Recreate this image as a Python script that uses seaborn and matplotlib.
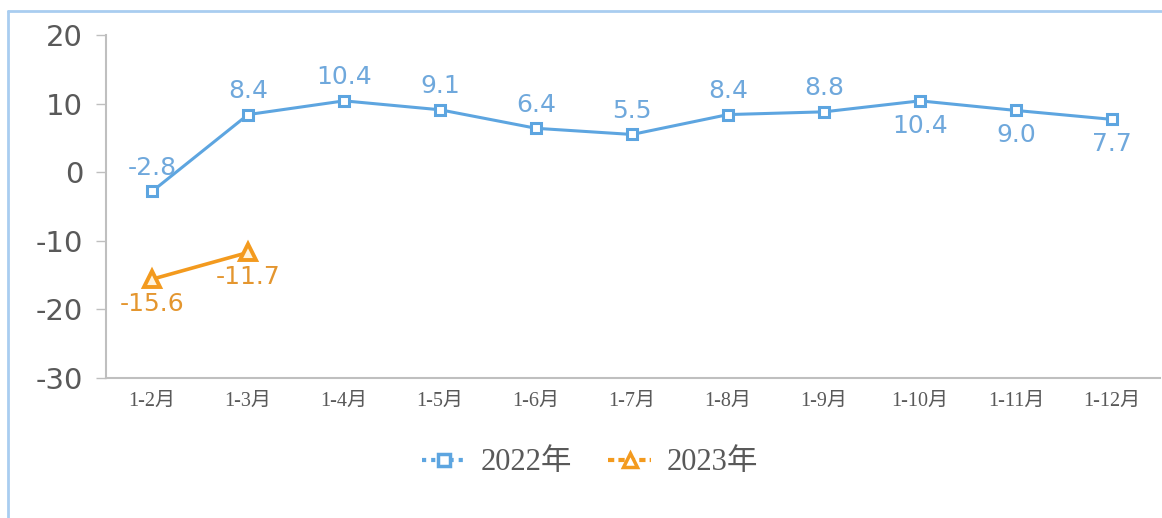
"""
    cumulative growth by month, 2022 vs 2023
"""
import matplotlib
matplotlib.use('Agg')
import matplotlib.pyplot as plt
import matplotlib.lines as mlines
import numpy as np
import pandas as pd
import seaborn as sns

months = ['1-2月', '1-3月', '1-4月', '1-5月', '1-6月', '1-7月', '1-8月', '1-9月', '1-10月', '1-11月', '1-12月']
vals_2022 = [-2.8, 8.4, 10.4, 9.1, 6.4, 5.5, 8.4, 8.8, 10.4, 9.0, 7.7]
vals_2023 = [-15.6, -11.7]
label_below_2022 = [False] * 8 + [True] * 3
y_ticks = [20, 10, 0, -10, -20, -30]

blue = '#5DA5E0'
blue_txt = '#6FA8DC'
orange = '#F39A1E'
orange_txt = '#E4962F'
grey_txt = '#595959'

sns.set_style('white')
plt.rcParams['font.family'] = ['DejaVu Sans', 'Noto Sans CJK SC']

df22 = pd.DataFrame({'x': np.arange(len(vals_2022)), 'y': vals_2022})
df23 = pd.DataFrame({'x': np.arange(len(vals_2023)), 'y': vals_2023})

fig = plt.figure(figsize=(11.62, 5.18), dpi=100)
ax = fig.add_axes([106 / 1162, 1 - 378 / 518, (1160 - 106) / 1162, (378 - 35) / 518])

sns.lineplot(data=df22, x='x', y='y', ax=ax, color=blue, lw=2.2, marker='s', markersize=7,
             markerfacecolor='white', markeredgecolor=blue, markeredgewidth=2.2)
sns.lineplot(data=df23, x='x', y='y', ax=ax, color=orange, lw=2.6, marker='^', markersize=12,
             markerfacecolor='#FFF3DC', markeredgecolor=orange, markeredgewidth=2.8)

# data labels
for i, v in enumerate(vals_2022):
    off = -18 if label_below_2022[i] else 17
    ax.annotate('%.1f' % v, (i, v), xytext=(0, off), textcoords='offset points',
                ha='center', va='center', color=blue_txt, fontsize=18, family='DejaVu Sans')
for i, v in enumerate(vals_2023):
    ax.annotate('%.1f' % v, (i, v), xytext=(0, -18), textcoords='offset points',
                ha='center', va='center', color=orange_txt, fontsize=18, family='DejaVu Sans')

ax.set_xlim(-0.48, 10.5)
ax.set_ylim(-30, 20)
ax.set_yticks(y_ticks)
ax.set_yticklabels([str(t) for t in y_ticks], fontsize=21, color=grey_txt)
ax.set_xticks(range(len(months)))
ax.set_xticklabels(months, fontsize=14.5, color=grey_txt,
                   family=['Liberation Serif', 'Noto Sans CJK SC'])
ax.set_xlabel('')
ax.set_ylabel('')
ax.tick_params(axis='y', length=7.5, width=1, color='#BFBFBF', left=True, pad=9)
ax.tick_params(axis='x', length=0, pad=10)
for s in ['top', 'right']:
    ax.spines[s].set_visible(False)
for s in ['left', 'bottom']:
    ax.spines[s].set_color('#BFBFBF')
    ax.spines[s].set_linewidth(1.5)

# legend
h22 = mlines.Line2D([], [], color=blue, lw=3, ls=(0, (1, 1.2)), marker='s', markersize=9,
                    markerfacecolor='white', markeredgecolor=blue, markeredgewidth=2.5)
h23 = mlines.Line2D([], [], color=orange, lw=3, ls=(0, (1.5, 1)), marker='^', markersize=10,
                    markerfacecolor='white', markeredgecolor=orange, markeredgewidth=2.5)
fig.legend([h22, h23], ['2022年', '2023年'], loc='center', bbox_to_anchor=(590 / 1162, 1 - 463 / 518),
           ncol=2, frameon=False, handlelength=1.4, columnspacing=1.2, handletextpad=0.5,
           prop={'family': ['Liberation Serif', 'Noto Sans CJK SC'], 'size': 22}, labelcolor=grey_txt)

# outer frame
fig.add_artist(mlines.Line2D([8 / 1162, 8 / 1162], [0, 1 - 11 / 518], transform=fig.transFigure,
                             color='#A9CDF0', lw=2))
fig.add_artist(mlines.Line2D([8 / 1162, 1], [1 - 11 / 518, 1 - 11 / 518], transform=fig.transFigure,
                             color='#A9CDF0', lw=2))

fig.savefig('out.png', dpi=100)
